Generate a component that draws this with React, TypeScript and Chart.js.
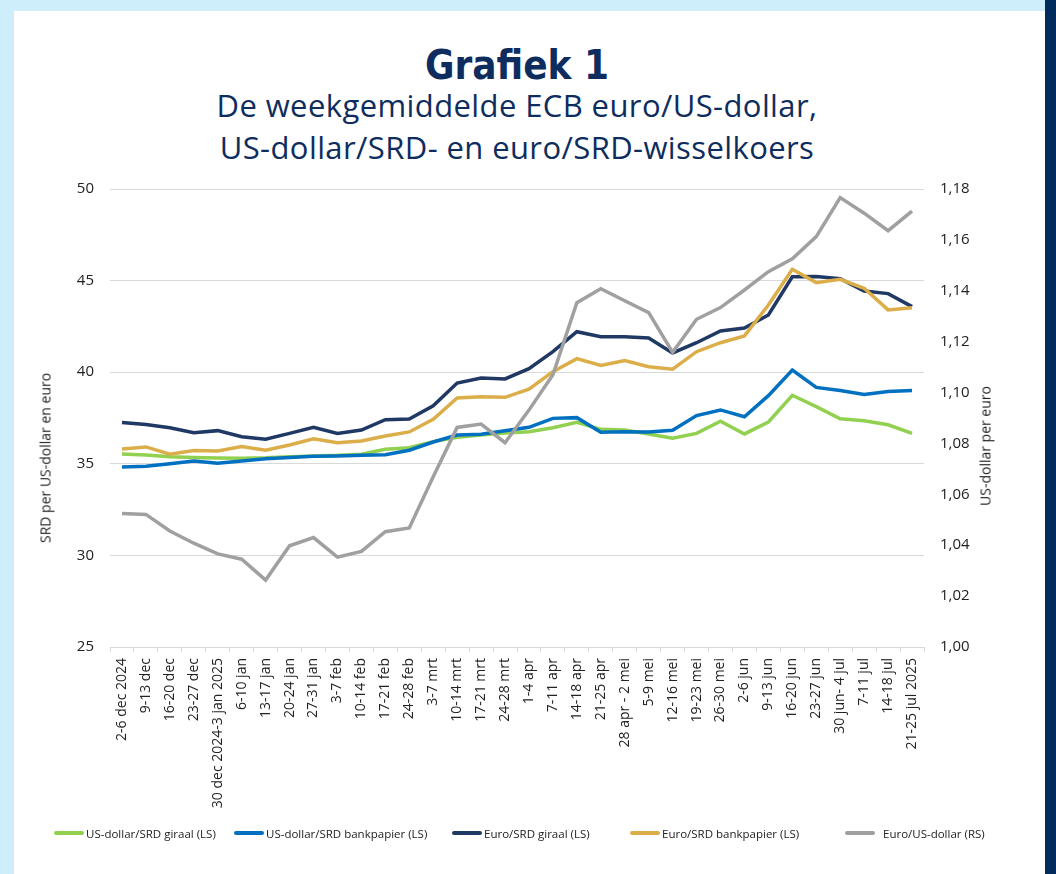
import React, { useEffect, useRef } from "react";
import { Chart, registerables } from "chart.js";

Chart.register(...registerables);

const labels = [
  "2-6 dec 2024", "9-13 dec", "16-20 dec", "23-27 dec", "30 dec 2024-3 jan 2025",
  "6-10 jan", "13-17 jan", "20-24 jan", "27-31 jan", "3-7 feb", "10-14 feb",
  "17-21 feb", "24-28 feb", "3-7 mrt", "10-14 mrt", "17-21 mrt", "24-28 mrt",
  "1-4 apr", "7-11 apr", "14-18 apr", "21-25 apr", "28 apr - 2 mei", "5-9 mei",
  "12-16 mei", "19-23 mei", "26-30 mei", "2-6 jun", "9-13 jun", "16-20 jun",
  "23-27 jun", "30 jun- 4 jul", "7-11 jul", "14-18 jul", "21-25 jul 2025",
];

const usdSrdGiraal = [35.53, 35.48, 35.39, 35.35, 35.32, 35.3, 35.33, 35.39, 35.43, 35.46, 35.52, 35.79, 35.88, 36.21, 36.45, 36.57, 36.68, 36.75, 36.97, 37.26, 36.88, 36.84, 36.63, 36.39, 36.66, 37.32, 36.63, 37.28, 38.74, 38.12, 37.46, 37.35, 37.13, 36.66];
const usdSrdBank = [34.83, 34.86, 35.0, 35.15, 35.03, 35.15, 35.28, 35.35, 35.41, 35.43, 35.46, 35.5, 35.74, 36.19, 36.57, 36.61, 36.8, 36.99, 37.48, 37.52, 36.72, 36.75, 36.74, 36.83, 37.63, 37.94, 37.57, 38.72, 40.12, 39.17, 39.0, 38.79, 38.95, 39.0];
const eurSrdGiraal = [37.26, 37.15, 36.97, 36.7, 36.81, 36.48, 36.34, 36.66, 36.99, 36.66, 36.84, 37.41, 37.44, 38.17, 39.41, 39.68, 39.63, 40.19, 41.12, 42.21, 41.94, 41.94, 41.87, 41.05, 41.61, 42.25, 42.41, 43.12, 45.21, 45.23, 45.1, 44.43, 44.29, 43.58];
const eurSrdBank = [35.81, 35.92, 35.52, 35.72, 35.7, 35.94, 35.74, 36.03, 36.37, 36.15, 36.24, 36.52, 36.74, 37.43, 38.59, 38.66, 38.63, 39.07, 40.03, 40.74, 40.37, 40.63, 40.3, 40.16, 41.12, 41.61, 41.98, 43.67, 45.62, 44.89, 45.07, 44.58, 43.4, 43.52];
const eurUsd = [1.0525, 1.0521, 1.0456, 1.0408, 1.0366, 1.0345, 1.0263, 1.0398, 1.043, 1.0353, 1.0376, 1.0453, 1.0468, 1.0669, 1.0863, 1.0876, 1.0803, 1.0931, 1.107, 1.1353, 1.1408, 1.1361, 1.1314, 1.1158, 1.1288, 1.1334, 1.1403, 1.1475, 1.1526, 1.1613, 1.1766, 1.1705, 1.1636, 1.1713];

const seriesNames = [
  "US-dollar/SRD giraal (LS)",
  "US-dollar/SRD bankpapier (LS)",
  "Euro/SRD giraal (LS)",
  "Euro/SRD bankpapier (LS)",
  "Euro/US-dollar (RS)",
];
const seriesColors = ["#92d050", "#0070c0", "#1f3864", "#dcae4a", "#a0a0a0"];
const seriesData = [usdSrdGiraal, usdSrdBank, eurSrdGiraal, eurSrdBank, eurUsd];
const seriesAxis = ["y", "y", "y", "y", "y2"];

const leftTitle = "SRD per US-dollar en euro";
const rightTitle = "US-dollar per euro";

// legend layout (x of line start, gap to text)
const legendPos = [54, 234, 452, 630, 845];
const legendGap = [2, 2, 2, 2, 8];

const FONT = "'Open Sans', 'Noto Sans', sans-serif";
const NAVY = "#0e2d5e";

export default function App() {
  const ref = useRef<HTMLCanvasElement | null>(null);

  useEffect(() => {
    if (!ref.current) return;
    const chart = new Chart(ref.current, {
      type: "line",
      data: {
        labels,
        datasets: seriesData.map((d, i) => ({
          label: seriesNames[i],
          data: d,
          yAxisID: seriesAxis[i],
          borderColor: seriesColors[i],
          backgroundColor: seriesColors[i],
          borderWidth: 3.5,
          pointRadius: 0,
          tension: 0,
          order: seriesData.length - 1 - i,
        })),
      },
      options: {
        animation: false,
        responsive: true,
        maintainAspectRatio: false,
        layout: { padding: { left: 70, right: 52, top: 189, bottom: 54 } },
        plugins: { legend: { display: false }, tooltip: { enabled: false }, title: { display: false } },
        scales: {
          x: {
            offset: true,
            grid: { offset: true, drawOnChartArea: false, drawTicks: true, tickLength: 5, color: "#d9d9d9" },
            border: { display: true, color: "#d9d9d9" },
            ticks: {
              autoSkip: false,
              maxRotation: 90,
              minRotation: 90,
              padding: 6,
              color: "#222",
              font: { family: FONT, size: 14 },
            },
            afterFit: (s: any) => { s.height = 173; },
          },
          y: {
            position: "left",
            min: 25,
            max: 50,
            ticks: { stepSize: 5, padding: 16, color: "#222", font: { family: FONT, size: 15 } },
            grid: { color: "#d9d9d9", drawTicks: false },
            border: { display: false },
            afterFit: (s: any) => { s.width = 40; },
          },
          y2: {
            position: "right",
            min: 1.0,
            max: 1.18,
            ticks: {
              stepSize: 0.02,
              padding: 16,
              color: "#222",
              font: { family: FONT, size: 15 },
              callback: (v: any) => Number(v).toFixed(2).replace(".", ","),
            },
            grid: { drawOnChartArea: false, drawTicks: false },
            border: { display: false },
            afterFit: (s: any) => { s.width = 80; },
          },
        },
      },
    });
    return () => chart.destroy();
  }, []);

  return (
    <div style={{ position: "fixed", left: 0, top: 0, width: 1056, height: 874, background: "#cfeefb", overflow: "hidden", fontFamily: FONT }}>
      <div style={{ position: "absolute", left: 14, top: 11, width: 1031, height: 863, background: "#ffffff" }} />
      <div style={{ position: "absolute", left: 1045, top: 0, width: 11, height: 874, background: "#002b5c" }} />
      <div style={{ position: "absolute", left: 0, width: 1034, top: 45, height: 40, lineHeight: "40px", textAlign: "center", fontFamily: "'DejaVu Sans Condensed', 'Liberation Sans Narrow', 'DejaVu Sans', sans-serif", fontStretch: "condensed", fontWeight: 700, fontSize: 40, color: NAVY }}>
        Grafiek 1
      </div>
      <div style={{ position: "absolute", left: 0, width: 1034, top: 90, height: 30, lineHeight: "30px", textAlign: "center", fontSize: 31, letterSpacing: 0.4, color: NAVY, whiteSpace: "nowrap" }}>
        De weekgemiddelde ECB euro/US-dollar,
      </div>
      <div style={{ position: "absolute", left: 0, width: 1034, top: 132, height: 30, lineHeight: "30px", textAlign: "center", fontSize: 31, letterSpacing: 0.4, color: NAVY, whiteSpace: "nowrap" }}>
        US-dollar/SRD- en euro/SRD-wisselkoers
      </div>
      <div style={{ position: "absolute", left: 0, top: 0, width: 1056, height: 874 }}>
        <canvas ref={ref} />
      </div>
      <div style={{ position: "absolute", left: 45, top: 458, width: 0, height: 0 }}>
        <div style={{ position: "absolute", left: 0, top: 0, transform: "translate(-50%, -50%) rotate(-90deg)", whiteSpace: "nowrap", fontSize: 14, color: "#222" }}>{leftTitle}</div>
      </div>
      <div style={{ position: "absolute", left: 985, top: 446, width: 0, height: 0 }}>
        <div style={{ position: "absolute", left: 0, top: 0, transform: "translate(-50%, -50%) rotate(-90deg)", whiteSpace: "nowrap", fontSize: 14, color: "#222" }}>{rightTitle}</div>
      </div>
      {seriesNames.map((n, i) => (
        <div key={n} style={{ position: "absolute", left: legendPos[i], top: 824, height: 18, display: "flex", alignItems: "center", whiteSpace: "nowrap", fontSize: 11.5, color: "#222" }}>
          <span style={{ display: "inline-block", width: 30, height: 4, borderRadius: 2, background: seriesColors[i], marginRight: legendGap[i] }} />
          <span>{n}</span>
        </div>
      ))}
    </div>
  );
}
